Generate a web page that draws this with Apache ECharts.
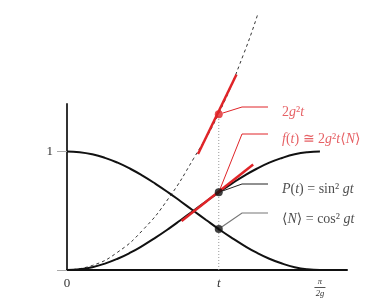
<!DOCTYPE html>
<html><head><meta charset="utf-8">
<script src="https://cdn.jsdelivr.net/npm/echarts@6/dist/echarts.min.js"></script>
<style>html,body{margin:0;padding:0;background:#fff}#c{width:366px;height:307px}</style>
</head><body><div id="c"></div>
<script>
// x in units of pi/(2g)
const sampleX = [0,0.05,0.1,0.15,0.2,0.25,0.3,0.35,0.4,0.45,0.5,0.55,0.6,0.65,0.7,0.75,0.8,0.85,0.9,0.95,1];
const cosSq = [1,0.994,0.976,0.946,0.905,0.854,0.794,0.727,0.655,0.578,0.5,0.422,0.345,0.273,0.206,0.146,0.095,0.055,0.024,0.006,0];
const sinSq = [0,0.006,0.024,0.054,0.095,0.146,0.206,0.273,0.345,0.422,0.5,0.578,0.655,0.727,0.794,0.854,0.905,0.945,0.976,0.994,1];
const dashedX = [0,0.1,0.2,0.3,0.4,0.5,0.6,0.7,0.755];
const dashedY = [0,0.038,0.150,0.338,0.600,0.938,1.320,1.830,2.163];
const tValue = 0.6;
const tangentTopX = [0.518,0.670], tangentTopY = [0.978,1.649];
const tangentLowX = [0.453,0.736], tangentLowY = [0.413,0.889];
const pointY = [1.313, 0.655, 0.655, 0.345];   // 2g²t, f(t) anchor, P(t), <N>
const xTickValues = [0, tValue, 1];
const xTickLabels = ['0', 't', 'π/2g'];
const yTickValues = [0, 1];
const yLabelValues = [1];
const yTickLabels = ['1'];

const RED = '#e02428', LRED = '#e0393e';
const SERIF = '"Liberation Serif","DejaVu Serif",serif';
function richSet(color) {
  return {
    i: {fontFamily: SERIF, fontStyle: 'italic', fontSize: 14, color: color},
    r: {fontFamily: SERIF, fontSize: 14, color: color}
  };
}
const labelTexts = [
  '{r|2}{i|g}{r|²}{i|t}',
  '{i|f}{r|(}{i|t}{r|) ≅ 2}{i|g}{r|²}{i|t}{r|⟨}{i|N}{r|⟩}',
  '{i|P}{r|(}{i|t}{r|) = sin² }{i|gt}',
  '{r|⟨}{i|N}{r|⟩ = cos² }{i|gt}'
];
const labelColors = [LRED, LRED, '#222', '#222'];
const lineColors = [RED, RED, '#222', '#777'];
const layoutY = [107, 134, 184, 213];
const padTop = [10, 11, 11, 13];
const symColors = [RED, RED, '#111', '#111'];
const symSizes = [8, 2, 8, 8];

const pts = pointY.map((y, k) => ({
  value: [tValue, y],
  symbolSize: symSizes[k],
  itemStyle: {color: symColors[k]},
  label: {
    show: true, formatter: labelTexts[k], rich: richSet(labelColors[k]),
    padding: [padTop[k], 0, 0, 14], backgroundColor: 'rgba(255,255,255,0)'
  },
  labelLine: {show: true, length2: 26, lineStyle: {color: lineColors[k], width: k === 3 ? 1.2 : 1}}
}));

const chart = echarts.init(document.getElementById('c'), null, {renderer: 'canvas'});
chart.setOption({
  animation: false,
  backgroundColor: '#fff',
  grid: {left: 67, right: 19, top: 104, bottom: 37, containLabel: false, outerBoundsMode: 'none'},
  xAxis: {
    type: 'value', min: 0, max: 1.107,
    axisLine: {lineStyle: {color: '#111', width: 2}},
    axisTick: {show: false},
    splitLine: {show: false},
    axisLabel: {
      customValues: xTickValues, margin: 7, color: '#333',
      formatter: function (v) {
        let k = 0, best = 1e9;
        xTickValues.forEach((tv, j) => { if (Math.abs(tv - v) < best) { best = Math.abs(tv - v); k = j; } });
        const s = xTickLabels[k];
        if (s === 't') return '{i|t}';
        if (s.indexOf('/') >= 0) { const p = s.split('/'); return '{f|' + p[0] + '}\n{bar|}\n{f|' + p[1] + '}'; }
        return '{n|' + s + '}';
      },
      rich: {
        n: {fontFamily: SERIF, fontSize: 13, color: '#333'},
        i: {fontFamily: SERIF, fontSize: 13, fontStyle: 'italic', color: '#333'},
        f: {fontFamily: SERIF, fontSize: 8.5, fontStyle: 'italic', color: '#333', lineHeight: 9, align: 'center'},
        bar: {height: 1, width: 11, backgroundColor: '#555', lineHeight: 3, align: 'center'}
      }
    }
  },
  yAxis: {
    type: 'value', min: 0, max: 1.4,
    axisLine: {show: true, lineStyle: {color: '#333', width: 2}},
    axisTick: {show: true, customValues: yTickValues, length: 10, lineStyle: {color: '#aaa', width: 1}},
    splitLine: {show: false},
    axisLabel: {customValues: yLabelValues, margin: 14, color: '#333', fontFamily: SERIF, fontSize: 13,
      formatter: v => yTickLabels[yLabelValues.indexOf(v)] || ''}
  },
  series: [
    {type: 'line', data: [[tValue, 0], [tValue, pointY[0]]], symbol: 'none', silent: true, z: 1,
     lineStyle: {color: '#999', width: 1, type: [1, 2]}},
    {type: 'line', data: dashedX.map((x, k) => [x, dashedY[k]]), smooth: true, symbol: 'none', clip: false, z: 2,
     lineStyle: {color: '#333', width: 1, type: [3, 3]}},
    {type: 'line', data: sampleX.map((x, k) => [x, cosSq[k]]), smooth: true, symbol: 'none', z: 3,
     lineStyle: {color: '#111', width: 2}},
    {type: 'line', data: sampleX.map((x, k) => [x, sinSq[k]]), smooth: true, symbol: 'none', z: 3,
     lineStyle: {color: '#111', width: 2}},
    {type: 'line', data: tangentTopX.map((x, k) => [x, tangentTopY[k]]), symbol: 'none', clip: false, z: 4,
     lineStyle: {color: RED, width: 2.5}},
    {type: 'line', data: tangentLowX.map((x, k) => [x, tangentLowY[k]]), symbol: 'none', clip: false, z: 4,
     lineStyle: {color: RED, width: 2.5}},
    {type: 'scatter', data: pts, z: 5,
     labelLayout: function (p) {
       return {x: 268, y: layoutY[p.dataIndex], align: 'left', verticalAlign: 'middle', hideOverlap: false, moveOverlap: null};
     }}
  ]
});
</script></body></html>
